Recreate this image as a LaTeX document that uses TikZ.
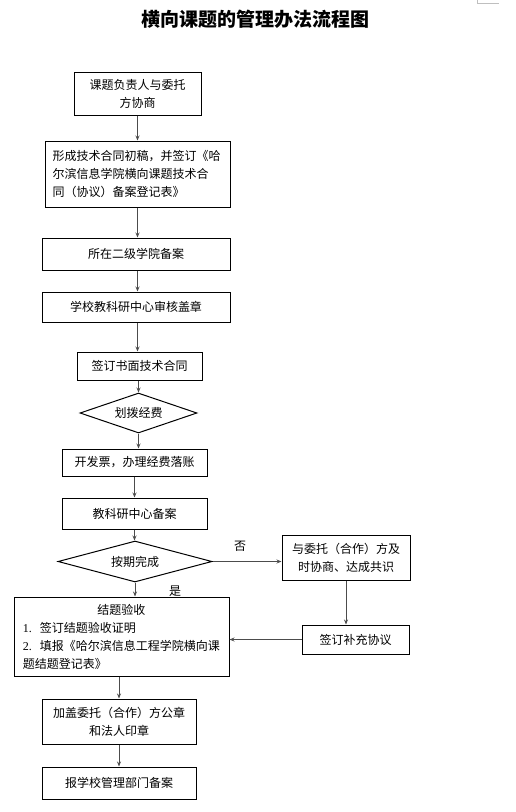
\documentclass[tikz,border=0pt]{standalone}
\usepackage{fontspec}
\setmainfont{Noto Sans CJK SC}
\newfontfamily\numfont{Liberation Serif}
\usetikzlibrary{shapes.geometric,arrows.meta}
\begin{document}
\begin{tikzpicture}[x=1pt,y=-1pt,
  every node/.style={font=\fontsize{12}{18}\selectfont},
  box/.style={draw=black,line width=1pt,rectangle,inner sep=0pt,align=center},
  dia/.style={draw=black,line width=1pt,diamond,inner sep=0pt,aspect=2.9},
  arr/.style={draw=black!70,line width=1pt,-{Stealth[length=5pt,width=4pt]}},
  lbl/.style={inner sep=0pt}]
\useasboundingbox (0,0) rectangle (516,812);
\draw[black!25,line width=0.8pt] (477,0) -- (477,3) -- (499,3);
\node[lbl,font=\fontsize{19}{22}\selectfont\bfseries] (title) at (255,19) {横向课题的管理办法流程图};

\node[box,minimum width=127pt,minimum height=43pt] (b1) at (137.5,93.5) {课题负责人与委托\\方协商};
\node[box,minimum width=185pt,minimum height=66pt,text width=170pt,align=left] (b2) at (137.5,174)
  {形成技术合同初稿，并签订《哈\\尔滨信息学院横向课题技术合\\同（协议）备案登记表》};
\node[box,minimum width=188pt,minimum height=32pt] (b3) at (136,254) {所在二级学院备案};
\node[box,minimum width=188pt,minimum height=30pt] (b4) at (136,307) {学校教科研中心审核盖章};
\node[box,minimum width=125pt,minimum height=28pt] (b5) at (139.5,366) {签订书面技术合同};
\node[dia,minimum width=117pt,minimum height=40pt] (d1) at (138.5,413) {划拨经费};
\node[box,minimum width=145pt,minimum height=27pt] (b6) at (134.5,462.5) {开发票，办理经费落账};
\node[box,minimum width=145pt,minimum height=31pt] (b7) at (134.5,513.5) {教科研中心备案};
\node[dia,minimum width=154pt,minimum height=41pt,aspect=3.75] (d2) at (135,561.5) {按期完成};
\node[box,minimum width=128pt,minimum height=45pt] (r1) at (346,557.5) {与委托（合作）方及\\时协商、达成共识};
\node[box,minimum width=107pt,minimum height=29pt] (r2) at (355.5,639.5) {签订补充协议};
\node[box,minimum width=215pt,minimum height=79pt,text width=197pt,align=left] (big) at (121.5,636.5)
  {\makebox[197pt]{结题验收}\\{\numfont 1.}\hspace{8pt}签订结题验收证明\\{\numfont 2.}\hspace{8pt}填报《哈尔滨信息工程学院横向课\\题结题登记表》};
\node[box,minimum width=154pt,minimum height=45pt] (b8) at (119,721.5) {加盖委托（合作）方公章\\和法人印章};
\node[box,minimum width=154pt,minimum height=32pt] (b9) at (119,783) {报学校管理部门备案};

\node[lbl] (no) at (240,546) {否};
\node[lbl] (yes) at (175,591) {是};

\draw[arr] (b1.south) -- (b1.south |- b2.north);
\draw[arr] (b2.south) -- (b2.south |- b3.north);
\draw[arr] (b2.south |- b3.south) -- (b2.south |- b4.north);
\draw[arr] (b2.south |- b4.south) -- (b2.south |- b5.north);
\draw[arr] (b5.south -| d1.north) -- (d1.north);
\draw[arr] (d1.south) -- (d1.south |- b6.north);
\draw[arr] (b6.south) -- (b7.north);
\draw[arr] (b7.south) -- (b7.south |- d2.north);
\draw[arr] (d2.south) -- (d2.south |- big.north);
\draw[arr] (d2.east) -- (d2.east -| r1.west);
\draw[arr] (r1.south) -- (r1.south |- r2.north);
\draw[arr] (r2.west) -- (r2.west -| big.east);
\draw[arr] (b8.north |- big.south) -- (b8.north);
\draw[arr] (b8.south) -- (b9.north);
\end{tikzpicture}
\end{document}
